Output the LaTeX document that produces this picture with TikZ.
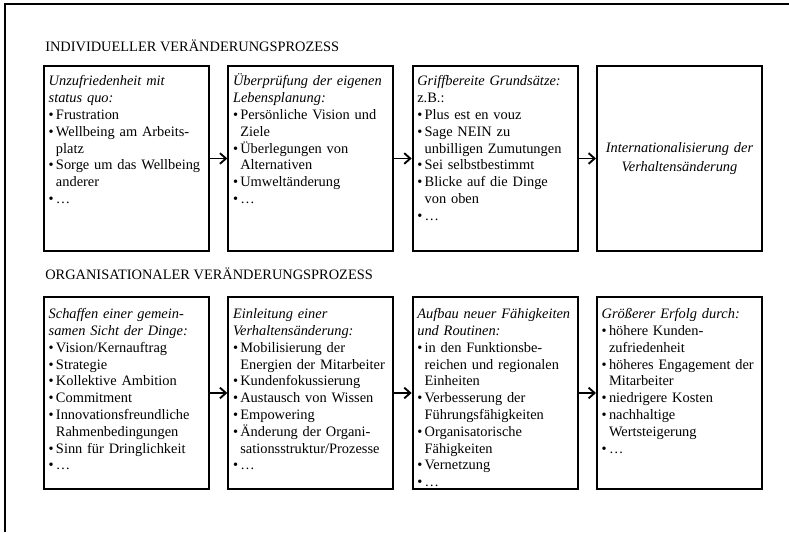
\documentclass[tikz,border=0pt]{standalone}
\usepackage{fontspec}
\setmainfont{Liberation Serif}
\usetikzlibrary{arrows.meta, positioning}

\newcommand{\pkt}{\makebox[5.5pt][l]{•}}
\newcommand{\weiter}{\hspace*{5.5pt}}

\begin{document}
\begin{tikzpicture}[
                x=0.75pt, y=0.75pt,
                node distance=13pt,
                every node/.style={font=\fontsize{10.8}{12.6}\selectfont},
                stufe/.style={draw, rectangle, line width=1.5pt, align=left, text width=116.75pt, inner xsep=3.5pt, inner ysep=5pt, text height=10pt, text depth=118.75pt},
                stufeunten/.style={stufe, text height=11.25pt, text depth=122.75pt},
                ziel/.style={draw, rectangle, line width=1.5pt, align=center, text width=116.75pt, minimum height=138.75pt, inner xsep=3.5pt, font=\fontsize{10.8}{14.5}\selectfont\itshape},
                titel/.style={anchor=base west, inner sep=0pt},
                arrow/.style={-{Straight Barb[length=4.5pt, width=8pt]}, line width=1.4pt}]
            \useasboundingbox (0,0) rectangle (789,532);
            % Rahmen (nur oben und links)
            \draw[line width=2pt] (5,0) -- (5,528) -- (789,528);

            % Individueller Prozess
            \node[titel] (titel1) at (45,480) {INDIVIDUELLER VERÄNDERUNGSPROZESS};
            \node[stufe, anchor=north west] (ind1) at (43,467) {%
                \textit{Unzufriedenheit mit}\\
                \textit{status quo:}\\
                \pkt Frustration\\
                \pkt Wellbeing am Arbeits-\\
                \weiter platz\\
                \pkt Sorge um das Wellbeing\\
                \weiter anderer\\
                \pkt …};
            \node[stufe, right=of ind1] (ind2) {%
                \textit{Überprüfung der eigenen}\\
                \textit{Lebensplanung:}\\
                \pkt Persönliche Vision und\\
                \weiter Ziele\\
                \pkt Überlegungen von\\
                \weiter Alternativen\\
                \pkt Umweltänderung\\
                \pkt …};
            \node[stufe, right=of ind2] (ind3) {%
                \textit{Griffbereite Grundsätze:}\\
                z.B.:\\
                \pkt Plus est en vouz\\
                \pkt Sage NEIN zu\\
                \weiter unbilligen Zumutungen\\
                \pkt Sei selbstbestimmt\\
                \pkt Blicke auf die Dinge\\
                \weiter von oben\\
                \pkt …};
            \node[ziel, right=of ind3] (ind4) {Internationalisierung der\\ Verhaltensänderung};

            % Organisationaler Prozess
            \node[titel] (titel2) at (45,252) {ORGANISATIONALER VERÄNDERUNGSPROZESS};
            \node[stufeunten, below=33pt of ind1] (org1) {%
                \textit{Schaffen einer gemein-}\\
                \textit{samen Sicht der Dinge:}\\
                \pkt Vision/Kernauftrag\\
                \pkt Strategie\\
                \pkt Kollektive Ambition\\
                \pkt Commitment\\
                \pkt Innovationsfreundliche\\
                \weiter Rahmenbedingungen\\
                \pkt Sinn für Dringlichkeit\\
                \pkt …};
            \node[stufeunten, right=of org1] (org2) {%
                \textit{Einleitung einer}\\
                \textit{Verhaltensänderung:}\\
                \pkt Mobilisierung der\\
                \weiter Energien der Mitarbeiter\\
                \pkt Kundenfokussierung\\
                \pkt Austausch von Wissen\\
                \pkt Empowering\\
                \pkt Änderung der Organi-\\
                \weiter sationsstruktur/Prozesse\\
                \pkt …};
            \node[stufeunten, right=of org2] (org3) {%
                \textit{Aufbau neuer Fähigkeiten}\\
                \textit{und Routinen:}\\
                \pkt in den Funktionsbe-\\
                \weiter reichen und regionalen\\
                \weiter Einheiten\\
                \pkt Verbesserung der\\
                \weiter Führungsfähigkeiten\\
                \pkt Organisatorische\\
                \weiter Fähigkeiten\\
                \pkt Vernetzung\\
                \pkt …};
            \node[stufeunten, right=of org3] (org4) {%
                \textit{Größerer Erfolg durch:}\\
                \pkt höhere Kunden-\\
                \weiter zufriedenheit\\
                \pkt höheres Engagement der\\
                \weiter Mitarbeiter\\
                \pkt niedrigere Kosten\\
                \pkt nachhaltige\\
                \weiter Wertsteigerung\\
                \pkt …};

            % Pfeile
            \draw[arrow] (ind1) -- (ind2);
            \draw[arrow] (ind2) -- (ind3);
            \draw[arrow] (ind3) -- (ind4);
            \draw[arrow] (org1) -- (org2);
            \draw[arrow] (org2) -- (org3);
            \draw[arrow] (org3) -- (org4);

        \end{tikzpicture}
\end{document}
